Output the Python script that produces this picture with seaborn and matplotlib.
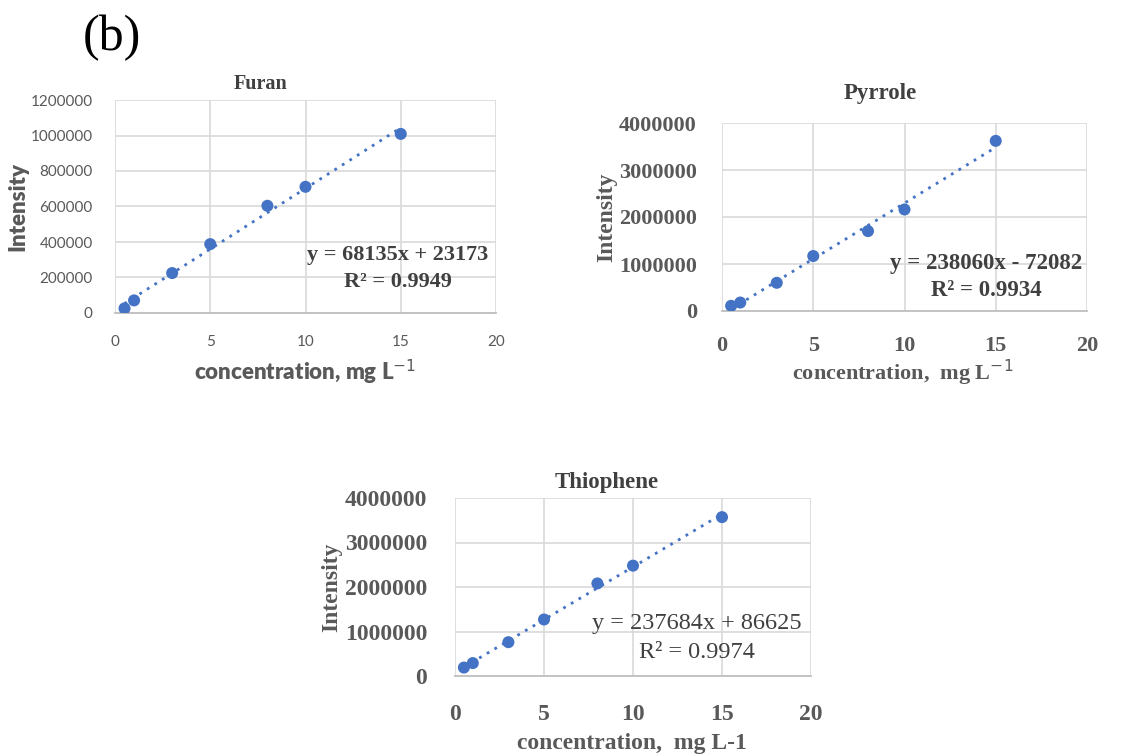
import matplotlib
matplotlib.use("Agg")
import matplotlib.pyplot as plt
import seaborn as sns
import numpy as np

# ---- data ----
conc = [0.5, 1, 3, 5, 8, 10, 15]
furan = [26000, 71000, 225000, 388000, 604000, 711000, 1009000]
pyrrole = [110000, 180000, 600000, 1170000, 1700000, 2160000, 3620000]
thiophene = [190000, 290000, 760000, 1270000, 2080000, 2480000, 3570000]

titles = ["Furan", "Pyrrole", "Thiophene"]
equations = ["y = 68135x + 23173", "y = 238060x - 72082", "y = 237684x + 86625"]
r2_labels = ["R\u00b2 = 0.9949", "R\u00b2 = 0.9934", "R\u00b2 = 0.9974"]
xticks = [0, 5, 10, 15, 20]
furan_yticks = [0, 200000, 400000, 600000, 800000, 1000000, 1200000]
big_yticks = [0, 1000000, 2000000, 3000000, 4000000]

sns.set_style("white")
plt.rcParams["font.family"] = ["Liberation Serif", "DejaVu Serif"]

W, H = 1130, 756
fig = plt.figure(figsize=(W / 100, H / 100), dpi=100)

BLUE = "#4472C4"
GRID = "#d9d9d9"
TXT = "#595959"


def px_axes(l, t, r, b):
    return fig.add_axes([l / W, 1 - b / H, (r - l) / W, (b - t) / H])


def style(ax, yticks, ymax):
    ax.set_xlim(0, 20)
    ax.set_ylim(0, ymax)
    ax.set_xticks(xticks)
    ax.set_yticks(yticks)
    ax.ticklabel_format(style="plain", useOffset=False, axis="y")
    ax.grid(True, color=GRID, lw=1.2)
    ax.set_axisbelow(True)
    for s in ["top", "right", "left"]:
        ax.spines[s].set_visible(False)
    ax.spines["bottom"].set_color("#bfbfbf")
    ax.spines["bottom"].set_linewidth(1.3)
    ax.tick_params(length=0)


def draw(ax, y):
    sns.regplot(x=conc, y=y, ax=ax, ci=None, truncate=True,
                scatter_kws=dict(s=75, color=BLUE, edgecolor="none", alpha=1, zorder=3),
                line_kws=dict(color=BLUE, lw=2, linestyle=(0, (1, 2.2)), zorder=2))


sans = ["Lato", "DejaVu Sans"]
serif = ["Liberation Serif", "DejaVu Serif"]

# ---- Furan ----
ax1 = px_axes(115, 100, 496, 313)
draw(ax1, furan)
style(ax1, furan_yticks, 1200000)
ax1.tick_params(axis="both", labelsize=11, labelcolor=TXT, pad=16)
for lb in ax1.get_xticklabels() + ax1.get_yticklabels():
    lb.set_family(sans)
ax1.set_title(titles[0], x=(261 - 115) / 381, y=1.0, pad=8, fontsize=14.5,
              fontweight="bold", color="#404040", family=serif)
ax1.set_xlabel("concentration, mg L$^{-1}$", fontsize=16, fontweight="heavy",
               color=TXT, family=sans, va="center")
ax1.xaxis.set_label_coords(0.5, (313 - 372) / 213)
ax1.set_ylabel("Intensity", fontsize=16, fontweight="heavy", color=TXT,
               family=sans, va="center")
ax1.yaxis.set_label_coords((18 - 115) / 381, 0.5)
fig.text(398 / W, 1 - 255 / H, equations[0], ha="center", va="center",
         fontsize=16, fontweight="bold", color="#404040", family=serif)
fig.text(398 / W, 1 - 282 / H, r2_labels[0], ha="center", va="center",
         fontsize=16, fontweight="bold", color="#404040", family=serif)

# ---- Pyrrole ----
ax2 = px_axes(722, 123, 1087, 311)
draw(ax2, pyrrole)
style(ax2, big_yticks, 4000000)
ax2.tick_params(axis="both", labelsize=16, labelcolor=TXT, pad=18)
for lb in ax2.get_xticklabels() + ax2.get_yticklabels():
    lb.set_family(serif)
    lb.set_fontweight("bold")
ax2.set_title(titles[1], x=(880 - 722) / 365, y=1.0, pad=17, fontsize=16.5,
              fontweight="bold", color="#404040", family=serif)
ax2.set_xlabel("concentration,  mg L$^{-1}$", fontsize=16, fontweight="bold",
               color=TXT, family=serif, va="center")
ax2.xaxis.set_label_coords((903 - 722) / 365, (311 - 373) / 188)
ax2.set_ylabel("Intensity", fontsize=17, fontweight="bold", color=TXT,
               family=serif, va="center")
ax2.yaxis.set_label_coords((607 - 722) / 365, 0.5)
fig.text(986 / W, 1 - 263 / H, equations[1], ha="center", va="center",
         fontsize=16.5, fontweight="bold", color="#404040", family=serif)
fig.text(986 / W, 1 - 290 / H, r2_labels[1], ha="center", va="center",
         fontsize=16.5, fontweight="bold", color="#404040", family=serif)

# ---- Thiophene ----
ax3 = px_axes(455, 498, 811, 676)
draw(ax3, thiophene)
style(ax3, big_yticks, 4000000)
ax3.tick_params(axis="both", labelsize=17, labelcolor=TXT, pad=20)
for lb in ax3.get_xticklabels() + ax3.get_yticklabels():
    lb.set_family(serif)
    lb.set_fontweight("bold")
ax3.set_title(titles[2], x=(607 - 455) / 356, y=1.0, pad=7, fontsize=16.5,
              fontweight="bold", color="#404040", family=serif)
ax3.set_xlabel("concentration,  mg L-1", fontsize=17, fontweight="bold",
               color=TXT, family=serif, va="center")
ax3.xaxis.set_label_coords((632 - 455) / 356, (676 - 743) / 178)
ax3.set_ylabel("Intensity", fontsize=17, fontweight="bold", color=TXT,
               family=serif, va="center")
ax3.yaxis.set_label_coords((332 - 455) / 356, 0.5)
fig.text(697 / W, 1 - 623 / H, equations[2], ha="center", va="center",
         fontsize=17.5, color="#404040", family=serif)
fig.text(697 / W, 1 - 652 / H, r2_labels[2], ha="center", va="center",
         fontsize=17.5, color="#404040", family=serif)

fig.text(112 / W, 1 - 38 / H, "(b)", ha="center", va="center", fontsize=36,
         color="black", family=serif)

fig.savefig("out.png", dpi=100, facecolor="white")
